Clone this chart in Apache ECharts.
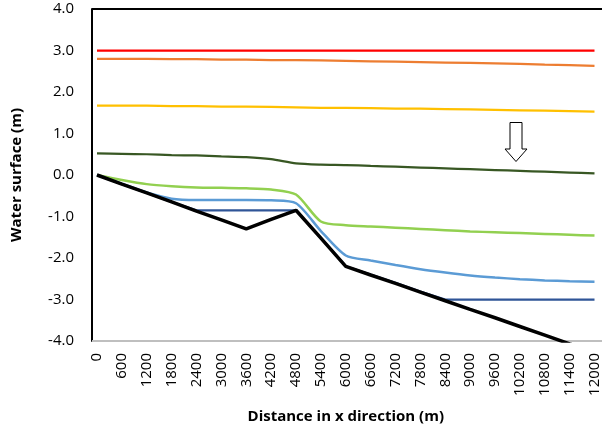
<!DOCTYPE html>
<html>
<head>
<meta charset="utf-8">
<script src="https://cdn.jsdelivr.net/npm/echarts@6/dist/echarts.min.js"></script>
<style>
html,body{margin:0;padding:0;background:#fff;}
#chart{width:602px;height:430px;}
</style>
</head>
<body>
<div id="chart"></div>
<script>
var distances = ['0','600','1200','1800','2400','3000','3600','4200','4800','5400','6000','6600','7200','7800','8400','9000','9600','10200','10800','11400','12000'];
var redLine    = [3.00,3.00,3.00,3.00,3.00,3.00,3.00,3.00,3.00,3.00,3.00,3.00,3.00,3.00,3.00,3.00,3.00,3.00,3.00,3.00,3.00];
var orangeLine = [2.80,2.80,2.80,2.79,2.79,2.78,2.78,2.77,2.77,2.76,2.75,2.74,2.73,2.72,2.71,2.70,2.69,2.68,2.66,2.65,2.63];
var yellowLine = [1.67,1.67,1.67,1.66,1.66,1.65,1.65,1.64,1.63,1.62,1.62,1.61,1.60,1.60,1.59,1.58,1.57,1.56,1.55,1.54,1.53];
var darkGreenLine = [0.52,0.51,0.50,0.48,0.47,0.45,0.43,0.38,0.28,0.25,0.24,0.22,0.20,0.18,0.16,0.14,0.12,0.10,0.08,0.06,0.04];
var lightGreenLine = [0.00,-0.12,-0.22,-0.27,-0.30,-0.31,-0.32,-0.35,-0.47,-1.12,-1.21,-1.24,-1.27,-1.30,-1.33,-1.36,-1.38,-1.40,-1.42,-1.44,-1.46];
var lightBlueLine = [0.00,-0.21,-0.42,-0.57,-0.60,-0.60,-0.60,-0.61,-0.68,-1.35,-1.94,-2.06,-2.17,-2.27,-2.35,-2.42,-2.47,-2.51,-2.54,-2.56,-2.57];
var darkBlueLine = [0.00,-0.22,-0.43,-0.65,-0.85,-0.85,-0.85,-0.85,-0.85,-1.52,-2.20,-2.40,-2.60,-2.81,-3.00,-3.00,-3.00,-3.00,-3.00,-3.00,-3.00];
var bedLine = [0.00,-0.22,-0.43,-0.65,-0.87,-1.08,-1.30,-1.07,-0.85,-1.52,-2.20,-2.41,-2.61,-2.82,-3.03,-3.24,-3.44,-3.65,-3.86,-4.07,-4.27];

var FONT = '"Open Sans", "Noto Sans", sans-serif';
var GL = 97, GR = 2, GT = 9, GB = 89;
var W = 602, H = 430;

function mk(data, color, width, z, smooth) {
  return { type: 'line', data: data, symbol: 'none', smooth: smooth || false, clip: true, z: z || 2,
    lineStyle: { color: color, width: width }, itemStyle: { color: color } };
}

var chart = echarts.init(document.getElementById('chart'), null, { renderer: 'canvas' });
chart.setOption({
  animation: false,
  backgroundColor: '#ffffff',
  grid: { left: GL, right: GR, top: GT, bottom: GB, containLabel: false },
  xAxis: {
    type: 'category', data: distances, boundaryGap: false,
    name: 'Distance in x direction (m)', nameLocation: 'middle', nameGap: 68,
    nameTextStyle: { fontFamily: FONT, fontSize: 15, fontWeight: 'bold', color: '#000' },
    axisLine: { show: false },
    axisTick: { show: false },
    axisLabel: { rotate: 90, interval: 0, margin: 12, fontFamily: FONT, fontSize: 15, color: '#000' },
    splitLine: { show: false }
  },
  yAxis: {
    type: 'value', min: -4, max: 4, interval: 1, offset: 5,
    name: 'Water surface (m)', nameLocation: 'middle', nameGap: 68,
    nameTextStyle: { fontFamily: FONT, fontSize: 15, fontWeight: 'bold', color: '#000' },
    axisLine: { show: true, lineStyle: { color: '#000', width: 2 } },
    axisTick: { show: false },
    axisLabel: { margin: 18, fontFamily: FONT, fontSize: 15, color: '#000',
      formatter: function (v) { return v.toFixed(1); } },
    splitLine: { show: false }
  },
  graphic: [
    { type: 'line', z: 1, shape: { x1: GL - 5, y1: GT, x2: W, y2: GT }, style: { stroke: '#000', lineWidth: 2 } },
    { type: 'line', z: 1, shape: { x1: GL - 5, y1: H - GB, x2: W, y2: H - GB }, style: { stroke: '#BFBFBF', lineWidth: 2 } },
    { type: 'polygon', z: 10, shape: { points: [[510,122.5],[522,122.5],[522,149],[527,149],[516,161.5],[505,149],[510,149]] },
      style: { fill: '#fff', stroke: '#000', lineWidth: 1 } }
  ],
  series: [
    mk(redLine, '#FF0000', 2.25),
    mk(orangeLine, '#ED7D31', 2.25),
    mk(yellowLine, '#FFC000', 2.25),
    mk(darkGreenLine, '#385723', 2.25, 2, 0.25),
    mk(lightGreenLine, '#92D050', 2.5, 2, 0.25),
    mk(lightBlueLine, '#5B9BD5', 2.5, 2, 0.25),
    mk(darkBlueLine, '#2F5597', 2.25),
    mk(bedLine, '#000000', 3.5, 3)
  ]
});
</script>
</body>
</html>
